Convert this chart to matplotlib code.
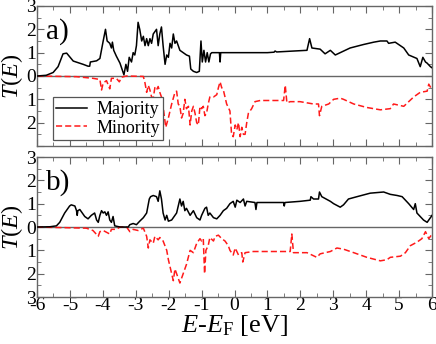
import numpy as np
import matplotlib
matplotlib.use('Agg')
import matplotlib.pyplot as plt
from matplotlib.ticker import MultipleLocator, FuncFormatter

# ---- data: energies (eV) and transmission ----
# panel a) majority
E_maj_a = [-6.00, -5.72, -5.51, -5.36, -5.21, -5.10, -4.90, -4.60, -4.45, -4.40,
           -4.38, -4.19, -4.09, -3.99, -3.92, -3.87, -3.79, -3.74, -3.71, -3.67,
           -3.59, -3.48, -3.36, -3.30, -3.25, -3.20, -3.13, -3.08, -3.03, -2.98,
           -2.93, -2.88, -2.82, -2.77, -2.72, -2.67, -2.62, -2.57, -2.52, -2.47,
           -2.42, -2.37, -2.32, -2.27, -2.22, -2.17, -2.11, -2.06, -2.01, -1.96,
           -1.91, -1.86, -1.81, -1.76, -1.66, -1.56, -1.46, -1.37, -1.33, -1.25,
           -1.15, -1.07, -1.02, -0.98, -0.93, -0.88, -0.83, -0.78, -0.73, -0.69,
           -0.46, -0.44, -0.42, 0.00, 0.50, 1.00, 1.20, 1.23, 1.28, 1.80,
           2.20, 2.28, 2.35, 2.60, 2.75, 2.91, 3.06, 3.21, 3.51, 3.92,
           4.23, 4.43, 4.63, 4.68, 4.88, 5.14, 5.29, 5.54, 5.64, 5.72,
           5.80, 5.85, 5.95, 6.00]
T_maj_a = [0.00, 0.03, 0.15, 0.40, 0.95, 0.98, 0.64, 0.50, 0.42, 0.42,
           0.60, 0.65, 0.75, 1.50, 2.00, 1.50, 1.40, 1.20, 1.45, 1.10,
           0.85, 0.55, 0.05, 0.50, 0.20, 0.80, 0.60, 1.00, 0.90, 1.30,
           2.30, 2.00, 1.50, 1.70, 1.30, 1.60, 1.30, 1.60, 1.40, 1.80,
           1.90, 2.00, 1.30, 1.80, 2.10, 1.30, 0.50, 0.90, 0.80, 1.40,
           1.20, 1.80, 1.40, 1.50, 1.10, 1.00, 0.90, 0.85, 0.30, 0.20,
           0.15, 0.20, 1.50, 0.60, 1.10, 0.60, 1.00, 0.60, 0.95, 1.00,
           1.00, 0.60, 1.00, 1.00, 1.00, 1.00, 1.02, 1.07, 1.03, 1.07,
           1.10, 1.60, 1.20, 1.15, 0.95, 1.10, 0.90, 1.00, 1.20, 1.35,
           1.45, 1.50, 1.50, 1.40, 1.45, 1.20, 0.90, 0.75, 0.40, 0.80,
           0.60, 0.55, 0.40, 0.35]

# panel a) minority
E_min_a = [-6.00, -4.80, -4.30, -4.09, -4.04, -3.99, -3.89, -3.79, -3.74, -3.59,
           -3.50, -3.43, -3.28, -2.77, -2.72, -2.67, -2.62, -2.57, -2.52, -2.47,
           -2.42, -2.37, -2.32, -2.27, -2.22, -2.17, -2.09, -2.01, -1.91, -1.81,
           -1.76, -1.71, -1.66, -1.61, -1.56, -1.51, -1.46, -1.40, -1.35, -1.30,
           -1.25, -1.20, -1.15, -1.10, -1.05, -1.00, -0.95, -0.90, -0.85, -0.80,
           -0.75, -0.64, -0.54, -0.49, -0.44, -0.39, -0.34, -0.24, -0.14, -0.09,
           -0.04, 0.02, 0.07, 0.12, 0.17, 0.22, 0.27, 0.32, 0.37, 0.42,
           0.52, 0.62, 0.78, 1.49, 1.54, 1.59, 1.69, 1.99, 2.40, 2.55,
           2.58, 2.65, 2.86, 3.01, 3.21, 3.31, 3.62, 4.02, 4.43, 4.73,
           4.83, 5.14, 5.44, 5.64, 5.85, 5.90, 6.00]
T_min_a = [0.00, 0.03, 0.10, 0.15, 0.60, 0.30, 0.20, 0.55, 0.10, 0.10,
           0.25, 0.05, 0.00, 0.02, 0.30, 0.70, 0.40, 0.60, 0.90, 0.95,
           0.50, 0.60, 0.45, 0.70, 0.90, 1.30, 2.20, 1.80, 1.20, 0.70,
           0.65, 1.20, 1.30, 1.80, 1.60, 1.00, 1.40, 1.30, 2.10, 1.50,
           1.30, 1.60, 2.00, 2.10, 1.30, 1.40, 1.30, 1.70, 1.60, 1.20,
           0.90, 0.90, 0.80, 0.50, 0.25, 0.50, 0.60, 1.20, 1.50, 2.50,
           2.60, 2.10, 2.30, 2.00, 2.60, 2.20, 2.50, 2.50, 2.00, 1.60,
           1.40, 1.10, 1.05, 1.05, 0.40, 1.15, 1.10, 1.10, 1.20, 1.20,
           1.70, 1.30, 1.20, 1.00, 0.95, 1.00, 1.20, 1.35, 1.45, 1.40,
           1.20, 1.30, 0.90, 0.70, 0.65, 0.35, 0.60]

# panel b) majority
E_maj_b = [-6.00, -5.61, -5.41, -5.31, -5.16, -5.01, -4.96, -4.85, -4.80, -4.78,
           -4.76, -4.70, -4.55, -4.45, -4.35, -4.25, -4.19, -4.14, -4.09, -4.04,
           -3.99, -3.94, -3.89, -3.84, -3.79, -3.74, -3.69, -3.64, -3.48, -3.23,
           -3.18, -3.08, -2.98, -2.88, -2.77, -2.67, -2.59, -2.55, -2.47, -2.37,
           -2.32, -2.27, -2.22, -2.17, -2.11, -2.06, -2.01, -1.91, -1.86, -1.76,
           -1.66, -1.61, -1.56, -1.51, -1.46, -1.35, -1.25, -1.15, -1.05, -1.00,
           -0.90, -0.85, -0.80, -0.75, -0.64, -0.54, -0.44, -0.34, -0.24, -0.14,
           -0.04, 0.02, 0.07, 0.17, 0.27, 0.32, 0.37, 0.62, 0.65, 0.68,
           1.49, 1.51, 1.53, 1.99, 2.30, 2.32, 2.40, 2.55, 2.58, 2.65,
           2.91, 3.01, 3.21, 3.31, 3.46, 3.72, 4.12, 4.53, 4.73, 4.94,
           5.09, 5.29, 5.44, 5.49, 5.54, 5.74, 5.85, 5.90, 6.00]
T_maj_b = [0.00, 0.01, 0.05, 0.20, 0.60, 0.90, 0.95, 0.90, 0.70, 0.50,
           0.70, 0.75, 0.45, 0.35, 0.50, 0.60, 0.30, 0.20, 0.50, 0.70,
           0.60, 0.65, 0.50, 0.65, 0.30, 0.20, 0.45, 0.05, 0.00, 0.00,
           0.10, 0.15, 0.10, 0.25, 0.40, 0.60, 1.20, 1.30, 1.35, 1.30,
           1.10, 1.55, 1.20, 0.60, 0.30, 0.50, 0.25, 0.30, 0.40, 0.60,
           1.20, 0.90, 1.10, 0.70, 0.80, 0.50, 0.70, 0.40, 0.30, 0.50,
           0.80, 0.85, 0.50, 0.60, 0.40, 0.35, 0.50, 0.70, 0.80, 1.00,
           1.10, 0.85, 1.15, 1.05, 1.20, 0.90, 1.10, 1.05, 0.75, 1.05,
           1.05, 0.90, 1.05, 1.10, 1.15, 1.30, 1.20, 1.20, 1.50, 1.30,
           1.10, 1.00, 0.85, 0.95, 1.20, 1.30, 1.45, 1.50, 1.40, 1.35,
           1.30, 1.00, 0.75, 1.00, 0.60, 0.30, 0.20, 0.30, 0.50]

# panel b) minority
E_min_b = [-6.00, -4.50, -4.40, -4.30, -4.14, -4.09, -3.99, -3.79, -3.74, -3.59,
           -3.48, -3.28, -3.18, -3.08, -2.93, -2.77, -2.67, -2.62, -2.57, -2.47,
           -2.42, -2.32, -2.27, -2.17, -2.06, -2.01, -1.96, -1.86, -1.81, -1.76,
           -1.66, -1.61, -1.51, -1.46, -1.35, -1.25, -1.15, -1.05, -1.00, -0.95,
           -0.91, -0.87, -0.80, -0.75, -0.64, -0.59, -0.49, -0.39, -0.29, -0.19,
           -0.14, -0.04, 0.02, 0.12, 0.22, 0.25, 0.32, 0.57, 0.98, 1.69,
           1.74, 1.79, 2.20, 2.50, 2.60, 2.91, 3.11, 3.31, 3.62, 4.02,
           4.43, 4.63, 4.73, 5.04, 5.19, 5.34, 5.54, 5.69, 5.80, 5.90,
           6.00]
T_min_b = [0.00, 0.05, 0.10, 0.15, 0.40, 0.20, 0.15, 0.30, 0.10, 0.10,
           0.00, 0.00, 0.20, 0.10, 0.15, 0.05, 0.40, 0.90, 0.55, 0.70,
           0.40, 0.55, 0.45, 0.60, 1.00, 1.40, 1.70, 2.30, 1.80, 2.00,
           2.40, 2.20, 1.80, 1.60, 1.00, 1.10, 0.70, 0.50, 0.60, 0.50,
           2.00, 1.00, 0.80, 0.45, 0.60, 0.40, 0.35, 0.50, 0.60, 0.80,
           1.00, 1.20, 0.90, 1.20, 1.10, 1.50, 1.10, 1.05, 1.05, 1.05,
           0.30, 1.10, 1.10, 1.30, 1.15, 1.05, 0.90, 0.95, 1.10, 1.30,
           1.45, 1.40, 1.30, 1.25, 1.10, 0.80, 0.65, 0.50, 0.20, 0.50,
           0.30]

panel_labels = ['a)', 'b)']

# ---- style ----
plt.rcParams['font.family'] = ['Liberation Serif', 'DejaVu Serif']
plt.rcParams['mathtext.fontset'] = 'custom'
plt.rcParams['mathtext.rm'] = 'Liberation Serif'
plt.rcParams['mathtext.it'] = 'Liberation Serif:italic'

frame_col = '#666666'

fig = plt.figure(figsize=(4.36, 3.44), dpi=100)
ax_a = fig.add_axes([0.0849, 0.5756, 0.9061, 0.4070])
ax_b = fig.add_axes([0.0849, 0.1366, 0.9061, 0.4070])

panels = [
    (ax_a, E_maj_a, T_maj_a, E_min_a, T_min_a),
    (ax_b, E_maj_b, T_maj_b, E_min_b, T_min_b),
]

for i, (ax, em, tm, en, tn) in enumerate(panels):
    ax.axhline(0, color='#666666', lw=1.0, zorder=1)
    ax.plot(em, tm, color='black', lw=1.1, label='Majority', zorder=3)
    ax.plot(en, -np.array(tn), color='#ff1a1a', lw=1.1, ls=(0, (4, 2)),
            label='Minority', zorder=2)
    ax.set_xlim(-6, 6)
    ax.set_ylim(-3, 3)
    ax.xaxis.set_major_locator(MultipleLocator(1))
    ax.xaxis.set_minor_locator(MultipleLocator(0.5))
    ax.yaxis.set_major_locator(MultipleLocator(1))
    ax.yaxis.set_minor_locator(MultipleLocator(0.5))
    ax.tick_params(which='both', direction='in', top=True, right=True,
                   color=frame_col, labelsize=14, pad=1)
    ax.tick_params(which='major', length=5)
    ax.tick_params(which='minor', length=3)
    for s in ax.spines.values():
        s.set_color(frame_col)
        s.set_linewidth(1.0)
    ax.set_ylabel('$T(E)$', fontsize=17.5)
    ax.yaxis.set_label_coords(-0.03, 0.5)
    ax.text(0.022, 0.815, panel_labels[i], transform=ax.transAxes,
            fontsize=21, va='center', ha='left')

ax_a.yaxis.set_major_formatter(FuncFormatter(
    lambda v, p: '' if v < -2.5 else '%d' % abs(round(v))))
ax_b.yaxis.set_major_formatter(FuncFormatter(lambda v, p: '%d' % abs(round(v))))
ax_a.tick_params(labelbottom=False)
ax_b.tick_params(axis='x', pad=0)
ax_b.xaxis.set_major_formatter(FuncFormatter(lambda v, p: '%d' % round(v)))
ax_b.set_xlabel('$E$-$E_\\mathrm{F}$ [eV]', fontsize=19, labelpad=-1)

leg = ax_a.legend(loc='lower left', bbox_to_anchor=(0.04, 0.04), borderaxespad=0,
                  fontsize=13, handlelength=1.7, fancybox=False,
                  edgecolor='#555555', framealpha=1, borderpad=0.2,
                  labelspacing=0.1, handletextpad=0.5)
leg.get_frame().set_linewidth(0.9)

plt.savefig('out.png', dpi=100)
